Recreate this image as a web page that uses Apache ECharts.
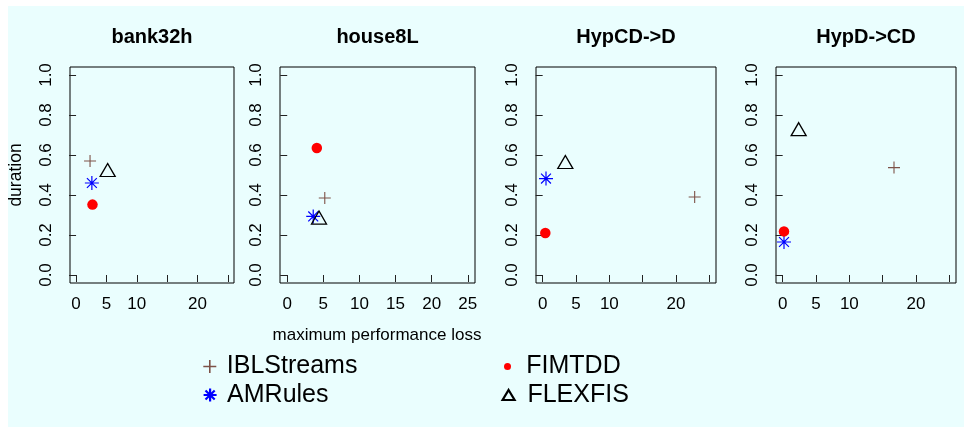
<!DOCTYPE html>
<html><head><meta charset="utf-8">
<script src="https://cdn.jsdelivr.net/npm/echarts@6/dist/echarts.min.js"></script>
<style>html,body{margin:0;padding:0;background:#fff}#c{width:964px;height:427px}</style>
</head><body><div id="c"></div>
<script>
// ---- data ----
const datasets = ['bank32h', 'house8L', 'HypCD->D', 'HypD->CD'];
const methods = ['IBLStreams', 'AMRules', 'FIMTDD', 'FLEXFIS'];
const iblLoss = [2.3, 5.2, 22.8, 16.7];
const iblDur  = [0.57, 0.385, 0.39, 0.537];
const amrLoss = [2.6, 3.6, 0.5, 0.2];
const amrDur  = [0.46, 0.293, 0.482, 0.165];
const fimLoss = [2.7, 4.1, 0.4, 0.2];
const fimDur  = [0.352, 0.635, 0.21, 0.218];
const flexLoss = [5.2, 4.4, 3.4, 2.4];
const flexDur  = [0.525, 0.287, 0.565, 0.729];
const xTickValues = [0, 5, 10, 15, 20, 25];
const xLabelValues = [[0, 5, 10, 20], [0, 5, 10, 15, 20, 25], [0, 5, 10, 20], [0, 5, 10, 20]];
const yTickValues = [0, 0.2, 0.4, 0.6, 0.8, 1.0];
const xName = 'maximum performance loss';
const yName = 'duration';

// ---- layout / style ----
const FONT = 'Liberation Sans, Arial, Helvetica, sans-serif';
const BROWN = '#7d5248';
const grids = [
  {left: 70, width: 164},
  {left: 280, width: 195},
  {left: 536, width: 180},
  {left: 776, width: 180}
];
const TOP = 67, HEIGHT = 216;
const plusPath = 'path://M0,6H12M6,0V12';
const starPath = 'path://M0,6H12M6,0V12M1.76,1.76L10.24,10.24M10.24,1.76L1.76,10.24';

const lossArr = [iblLoss, amrLoss, fimLoss, flexLoss];
const durArr = [iblDur, amrDur, fimDur, flexDur];
const mStyle = [
  {symbol: plusPath, symbolSize: 12, itemStyle: {opacity: 1, color: 'transparent', borderColor: BROWN, borderWidth: 1.1}},
  {symbol: starPath, symbolSize: 14, itemStyle: {opacity: 1, color: 'transparent', borderColor: '#0000ff', borderWidth: 1.2}},
  {symbol: 'circle', symbolSize: 10.5, itemStyle: {opacity: 1, color: '#ff0000', borderWidth: 0}},
  {symbol: 'triangle', symbolSize: [15, 13], itemStyle: {opacity: 1, color: 'transparent', borderColor: '#000', borderWidth: 1.3}}
];

const option = {
  animation: false,
  backgroundColor: '#ffffff',
  graphic: [
    {type: 'rect', z: -100, shape: {x: 8, y: 6, width: 960, height: 425}, style: {fill: '#eafefe'}},
    {type: 'text', x: 16, y: 175, rotation: Math.PI / 2,
     style: {text: yName, font: '17.5px ' + FONT, fill: '#000', textAlign: 'center', textVerticalAlign: 'middle'}},
    {type: 'text', x: 377, y: 335.5,
     style: {text: xName, font: '17px ' + FONT, fill: '#000', textAlign: 'center', textVerticalAlign: 'middle'}}
  ],
  title: datasets.map((d, i) => ({
    text: d, left: grids[i].left + grids[i].width / 2, top: 27, textAlign: 'center', padding: 0,
    textStyle: {fontSize: 20, fontWeight: 'bold', fontFamily: FONT, color: '#000'}
  })),
  grid: grids.map(g => ({left: g.left, width: g.width, top: TOP, height: HEIGHT, show: true,
    borderColor: '#000', borderWidth: 1, backgroundColor: 'transparent'})),
  xAxis: grids.map((g, i) => ({
    type: 'value', gridIndex: i, min: -1, max: 26,
    axisLine: {show: false}, splitLine: {show: false},
    axisTick: {show: true, inside: false, length: 7, lineStyle: {color: '#222'}, customValues: xTickValues},
    axisLabel: {show: true, customValues: xLabelValues[i], margin: 13, fontSize: 17, fontFamily: FONT, color: '#000'}
  })),
  yAxis: grids.map((g, i) => ({
    type: 'value', gridIndex: i, min: -0.04, max: 1.04,
    axisLine: {show: false}, splitLine: {show: false},
    axisTick: {show: true, inside: false, length: 7, lineStyle: {color: '#222'}, customValues: yTickValues},
    axisLabel: {show: true, customValues: yTickValues, rotate: 90, margin: 15, fontSize: 17, fontFamily: FONT, color: '#000',
      formatter: v => v.toFixed(1)}
  })),
  legend: [
    {left: 202.5, top: 352.5, padding: 0, itemWidth: 13, itemHeight: 13, selectedMode: false,
     data: [{name: 'IBLStreams', icon: plusPath, itemStyle: {opacity: 1, color: 'transparent', borderColor: BROWN, borderWidth: 1.6}}],
     textStyle: {fontSize: 25, fontFamily: FONT, color: '#000', lineHeight: 28, padding: [0, 0, 0, 5.5]}},
    {left: 202.5, top: 381, padding: 0, itemWidth: 13, itemHeight: 13, selectedMode: false,
     data: [{name: 'AMRules', icon: starPath, itemStyle: {opacity: 1, color: 'transparent', borderColor: '#0000ff', borderWidth: 2.2}}],
     textStyle: {fontSize: 25, fontFamily: FONT, color: '#000', lineHeight: 28, padding: [0, 0, 0, 5.5]}},
    {left: 504, top: 352.5, padding: 0, itemWidth: 7, itemHeight: 7, selectedMode: false,
     data: [{name: 'FIMTDD', icon: 'circle', itemStyle: {opacity: 1, color: '#ff0000', borderWidth: 0}}],
     textStyle: {fontSize: 25, fontFamily: FONT, color: '#000', lineHeight: 28, padding: [0, 0, 0, 10.3]}},
    {left: 501.5, top: 381, padding: 0, itemWidth: 12, itemHeight: 10, selectedMode: false,
     data: [{name: 'FLEXFIS', icon: 'triangle', itemStyle: {opacity: 1, color: 'transparent', borderColor: '#000', borderWidth: 2.2}}],
     textStyle: {fontSize: 25, fontFamily: FONT, color: '#000', lineHeight: 28, padding: [0, 0, 0, 7.8]}}
  ],
  series: []
};

methods.forEach((m, k) => {
  for (let i = 0; i < datasets.length; i++) {
    option.series.push(Object.assign({
      type: 'scatter', name: m, xAxisIndex: i, yAxisIndex: i,
      data: [[lossArr[k][i], durArr[k][i]]],
      emphasis: {disabled: true}, silent: true
    }, JSON.parse(JSON.stringify(mStyle[k]))));
  }
});

const chart = echarts.init(document.getElementById('c'), null, {renderer: 'canvas'});
chart.setOption(option);
</script>
</body></html>
